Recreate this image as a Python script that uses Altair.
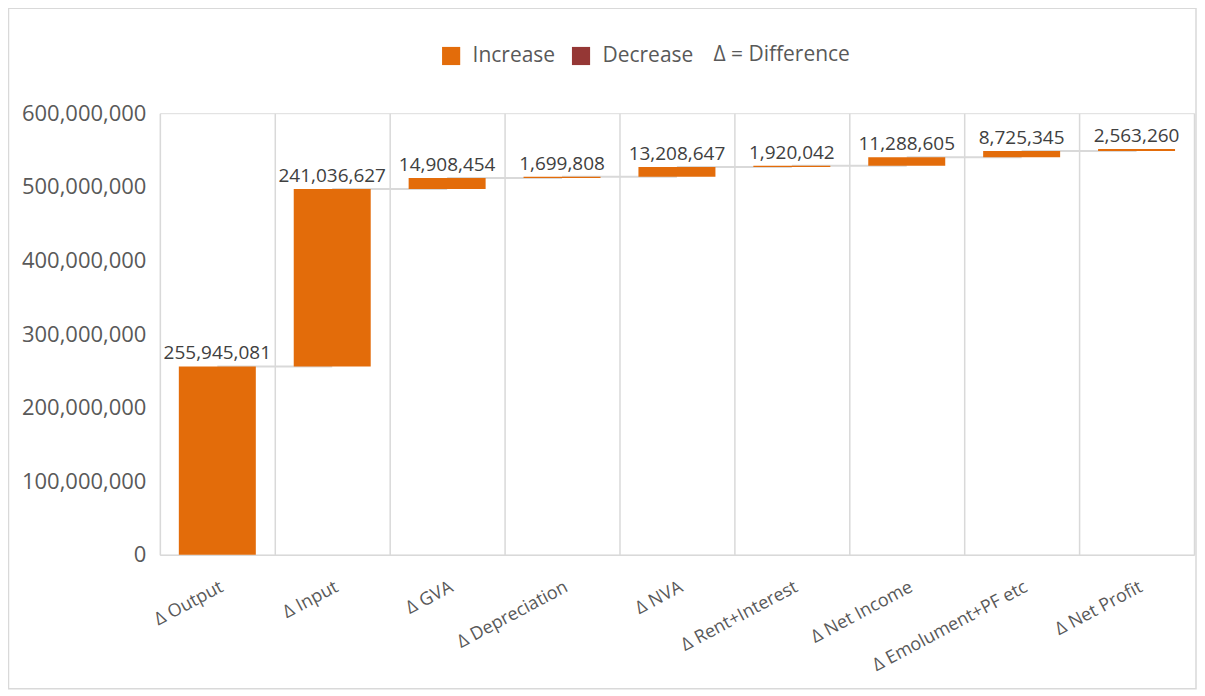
import altair as alt
import pandas as pd

categories = ["Δ Output", "Δ Input", "Δ GVA", "Δ Depreciation", "Δ NVA",
              "Δ Rent+Interest", "Δ Net Income", "Δ Emolument+PF etc", "Δ Net Profit"]
changes = [255945081, 241036627, 14908454, 1699808, 13208647,
           1920042, 11288605, 8725345, 2563260]
labels = ["255,945,081", "241,036,627", "14,908,454", "1,699,808", "13,208,647",
          "1,920,042", "11,288,605", "8,725,345", "2,563,260"]

rows = []
running = 0
for i, (c, v, l) in enumerate(zip(categories, changes, labels)):
    start = running
    end = running + v
    running = end
    rows.append({"cat": c, "start": start, "end": end, "label": l,
                 "kind": "Increase" if v >= 0 else "Decrease",
                 "next": categories[i + 1] if i + 1 < len(categories) else None})
df = pd.DataFrame(rows)
conn = df[df["next"].notna()]

FONT = "Open Sans"
W, H = 1035, 442
PL, PT, PR, PB = 152, 105, 3, 135

xscale = alt.Scale(domain=categories, paddingInner=0, paddingOuter=0)
yscale = alt.Scale(domain=[0, 600000000], nice=False)

base = alt.Chart(df)

border = alt.Chart(pd.DataFrame({"a": [0]})).mark_rect(
    fill=None, stroke="#d9d9d9", strokeWidth=1.5
).encode(
    x=alt.value(-PL + 0.5), x2=alt.value(W + PR - 1),
    y=alt.value(-PT), y2=alt.value(H + PB - 1)
)

connectors = alt.Chart(conn).mark_rule(color="#d9d9d9", strokeWidth=2).encode(
    x=alt.X("cat:N", scale=xscale),
    x2=alt.X2("next:N"),
    y=alt.Y("end:Q", scale=yscale),
)

bars = base.mark_bar(width=alt.RelativeBandSize(0.67)).encode(
    x=alt.X("cat:N", scale=xscale, sort=categories, title=None,
            axis=alt.Axis(labelAngle=-28, labelAlign="right", labelBaseline="top",
                          labelFont=FONT, labelFontSize=18, labelColor="#595959",
                          labelPadding=23, ticks=False, grid=True, tickBand="extent",
                          gridColor="#d9d9d9", gridWidth=1.5,
                          domainColor="#d9d9d9", domainWidth=1.5)),
    y=alt.Y("start:Q", scale=yscale, title=None,
            axis=alt.Axis(values=[0, 100000000, 200000000, 300000000, 400000000,
                                  500000000, 600000000],
                          format=",d", grid=False, ticks=False, domain=False,
                          labelFont=FONT, labelFontSize=22, labelColor="#595959",
                          labelPadding=14)),
    y2="end:Q",
    color=alt.Color("kind:N",
                    scale=alt.Scale(domain=["Increase", "Decrease"],
                                    range=["#E36C0A", "#953735"]),
                    legend=alt.Legend(title="Δ = Difference", titleOrient="right",
                                      orient="none", legendX=281, legendY=-68,
                                      direction="horizontal",
                                      symbolType="square", symbolSize=330,
                                      symbolStrokeWidth=0, symbolOpacity=1,
                                      labelFont=FONT, labelFontSize=21,
                                      labelColor="#595959", labelOffset=11,
                                      columnPadding=15,
                                      titleFont=FONT, titleFontSize=21,
                                      titleFontWeight="normal", titleColor="#595959",
                                      titlePadding=20, titleBaseline="middle")),
)

texts = base.mark_text(baseline="bottom", dy=-3, font=FONT, fontSize=19,
                       color="#404040").encode(
    x=alt.X("cat:N", scale=xscale),
    y=alt.Y("end:Q", scale=yscale),
    text="label:N",
)

chart = alt.layer(border, connectors, bars, texts).properties(
    width=W, height=H,
    padding={"left": PL, "top": PT, "right": PR, "bottom": PB},
    autosize=alt.AutoSizeParams(type="none"),
).configure_view(stroke=None).configure(background="white")

chart.save("out.html", embed_options={"renderer": "svg", "actions": False})
